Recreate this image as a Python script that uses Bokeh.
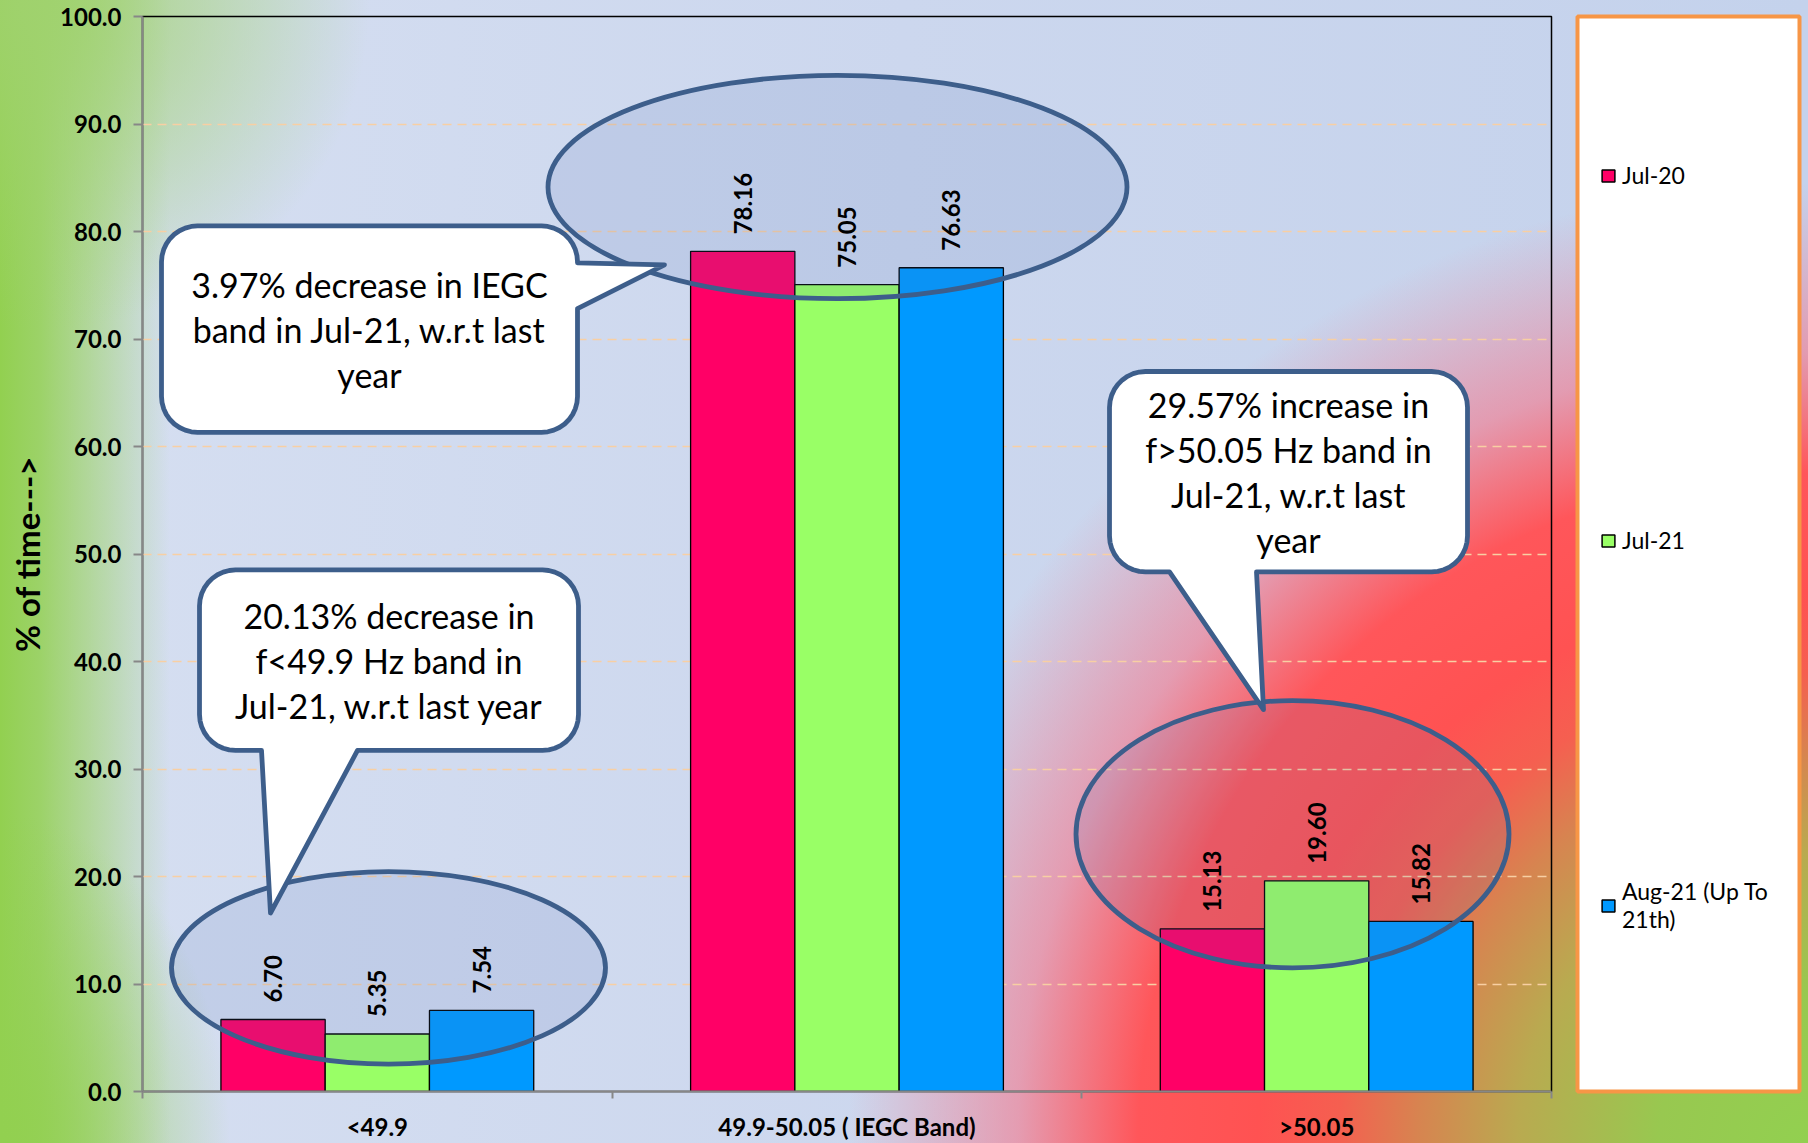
import numpy as np
from bokeh.plotting import figure
from bokeh.models import (ColumnDataSource, FixedTicker, NumeralTickFormatter, Range1d,
                          LabelSet, Legend, LegendItem)
from bokeh.layouts import row
from bokeh.embed import file_html
from bokeh.resources import INLINE
from bokeh.core.properties import value

# ---------------- data ----------------
categories = ["<49.9", "49.9-50.05 ( IEGC Band)", ">50.05"]
series_names = ["Jul-20", "Jul-21", "Aug-21 (Up To\n21th)"]
jul20 = [6.70, 78.16, 15.13]
jul21 = [5.35, 75.05, 19.60]
aug21 = [7.54, 76.63, 15.82]
y_ticks = [0, 10, 20, 30, 40, 50, 60, 70, 80, 90, 100]
callout_texts = [
    "3.97% decrease in IEGC\nband in Jul-21, w.r.t last\nyear",
    "20.13% decrease in\nf<49.9 Hz band in\nJul-21, w.r.t last year",
    "29.57% increase in\nf>50.05 Hz band in\nJul-21, w.r.t last\nyear",
]

# ---------------- layout (page pixels) ----------------
PAGE_W, PAGE_H = 1808, 1143
FL, FT, FR, FB = 142, 15, 1551, 1093
FW, FH = FR - FL, FB - FT
PXX = FW / 3.0
PXY = FH / 100.0
LEG_X = 1575
FONT = value("Lato")
colors = ["#ff0066", "#99ff66", "#0099ff"]
EDGE = "#3d5e8b"


def dx(X):
    return (X - FL) / PXX


def dy(Y):
    return (FB - Y) / PXY


p = figure(width=LEG_X, height=PAGE_H, x_range=Range1d(0, 3), y_range=Range1d(0, 100),
           output_backend="svg", toolbar_location=None, title=None,
           min_border_left=FL, min_border_top=FT,
           min_border_right=LEG_X - FL - FW,
           min_border_bottom=PAGE_H - FT - FH)
p.background_fill_color = None
p.border_fill_color = None
p.outline_line_color = "black"
p.outline_line_width = 1.5

# grid
p.xgrid.visible = False
p.ygrid.ticker = FixedTicker(ticks=y_ticks)
p.ygrid.grid_line_color = "#f8cfa3"
p.ygrid.grid_line_dash = "9 6"
p.ygrid.grid_line_width = 1.6

# y axis
p.yaxis.ticker = FixedTicker(ticks=y_ticks)
p.yaxis.formatter = NumeralTickFormatter(format="0.0")
p.yaxis.major_label_text_font = "Lato"
p.yaxis.major_label_text_font_style = "bold"
p.yaxis.major_label_text_font_size = "24px"
p.yaxis.major_label_text_color = "black"
p.yaxis.axis_line_color = "#878787"
p.yaxis.axis_line_width = 2
p.yaxis.major_tick_line_color = "#878787"
p.yaxis.major_tick_line_width = 2
p.yaxis.major_tick_out = 9
p.yaxis.major_tick_in = 0
p.yaxis.minor_tick_line_color = None
p.yaxis.major_label_standoff = 12
p.yaxis.axis_label = "% of time--->"
p.yaxis.axis_label_text_font = "Lato"
p.yaxis.axis_label_text_font_style = "bold"
p.yaxis.axis_label_text_font_size = "33px"
p.yaxis.axis_label_text_color = "black"
p.yaxis.axis_label_standoff = 10

# x axis
centers = [i + 0.5 for i in range(len(categories))]
p.xaxis.ticker = FixedTicker(ticks=centers, minor_ticks=list(range(len(categories) + 1)))
p.xaxis.major_label_overrides = {c: lab for c, lab in zip(centers, categories)}
p.xaxis.major_label_text_font = "Lato"
p.xaxis.major_label_text_font_style = "bold"
p.xaxis.major_label_text_font_size = "24px"
p.xaxis.major_label_text_color = "black"
p.xaxis.axis_line_color = "#878787"
p.xaxis.axis_line_width = 2
p.xaxis.major_tick_line_color = None
p.xaxis.major_tick_out = 0
p.xaxis.major_tick_in = 0
p.xaxis.minor_tick_line_color = "#878787"
p.xaxis.minor_tick_line_width = 2
p.xaxis.minor_tick_out = 7
p.xaxis.minor_tick_in = 0
p.xaxis.major_label_standoff = 13

# bars
BW = 0.222
series = [jul20, jul21, aug21]
lab_x, lab_y, lab_t = [], [], []
for si, vals in enumerate(series):
    xs = [c + (si - 1) * BW for c in centers]
    src = ColumnDataSource(dict(x=xs, top=vals))
    p.vbar(x="x", top="top", bottom=0, width=BW, source=src,
           fill_color=colors[si], line_color="black", line_width=1.3)
    lab_x += xs
    lab_y += vals
    lab_t += ["%.2f" % v for v in vals]

# highlight ellipses (page px: cx, cy, w, h)
ell_px = [(388, 969, 434, 193), (837, 186, 579, 224), (1292, 835, 433, 268)]
p.ellipse(x=[dx(e[0]) for e in ell_px], y=[dy(e[1]) for e in ell_px],
          width=[e[2] / PXX for e in ell_px], height=[e[3] / PXY for e in ell_px],
          fill_color="#4a6fae", fill_alpha=0.13, line_color=EDGE, line_width=4.8)

# value labels
lsrc = ColumnDataSource(dict(x=lab_x, y=lab_y, t=lab_t))
p.add_layout(LabelSet(x="x", y="y", text="t", source=lsrc, angle=np.pi / 2,
                      text_align="left", text_baseline="middle", y_offset=17,
                      text_font=FONT, text_font_style="bold", text_font_size="24px",
                      text_color="black"))


# callouts
def callout(l, t, r, b, rad, side, a1, tip, a2, n=10):
    pts = []

    def arc(cx, cy, t0, t1):
        for th in np.linspace(np.radians(t0), np.radians(t1), n):
            pts.append((cx + rad * np.cos(th), cy + rad * np.sin(th)))

    arc(r - rad, t + rad, -90, 0)
    if side == "right":
        pts += [(r, a1), tip, (r, a2)]
    arc(r - rad, b - rad, 0, 90)
    if side == "bottom":
        pts += [(a2, b), tip, (a1, b)]
    arc(l + rad, b - rad, 90, 180)
    arc(l + rad, t + rad, 180, 270)
    return [dx(q[0]) for q in pts], [dy(q[1]) for q in pts]


boxes = [
    (161, 225, 577, 432, 36, "right", 262, (664, 264), 308),
    (199, 570, 578, 751, 36, "bottom", 261, (270, 914), 357),
    (1109, 371, 1467, 572, 36, "bottom", 1169, (1263, 710), 1256),
]
cxs, cys = [], []
for bx in boxes:
    xs, ys = callout(*bx)
    cxs.append(xs)
    cys.append(ys)
p.patches(xs=cxs, ys=cys, fill_color="white", line_color=EDGE, line_width=4.8, line_join="round")
p.text(x=[dx((b[0] + b[2]) / 2) for b in boxes], y=[dy((b[1] + b[3]) / 2) for b in boxes],
       text=callout_texts, text_align="center", text_baseline="middle",
       text_font=FONT, text_font_size="34px", text_line_height=1.1, text_color="black")

# ---------------- legend panel ----------------
LW = PAGE_W - LEG_X
p2 = figure(width=LW, height=PAGE_H, x_range=Range1d(0, 1), y_range=Range1d(0, 1),
            output_backend="svg", toolbar_location=None, title=None,
            x_axis_type=None, y_axis_type=None,
            min_border_left=2, min_border_right=LW - 2 - 222,
            min_border_top=16, min_border_bottom=PAGE_H - 16 - 1083)
p2.grid.visible = False
p2.background_fill_color = "white"
p2.border_fill_color = None
p2.outline_line_color = "#f79646"
p2.outline_line_width = 4

items = []
for si, name in enumerate(series_names):
    rr = p2.rect(x=[-10], y=[-10], width=1, height=1, fill_color=colors[si], line_color="black",
                 line_width=1.5)
    items.append(LegendItem(label=name, renderers=[rr]))
leg = Legend(items=items, location="top_left", margin=23, padding=0, spacing=93,
             label_height=272, glyph_width=16, glyph_height=15, label_standoff=6,
             label_text_font="Lato", label_text_font_size="23px", label_text_color="black",
             background_fill_alpha=0, border_line_color=None)
p2.add_layout(leg)


def px(v):
    return f"{v}px"


bg = ", ".join([
    "radial-gradient(circle 960px at 1808px 1143px, "
    "rgba(146,208,80,1) 0px, rgba(152,200,80,1) 150px, rgba(185,170,80,1) 290px, "
    "rgba(215,132,80,1) 390px, rgba(245,95,80,1) 470px, rgba(255,82,82,1) 550px, "
    "rgba(255,86,90,1) 670px, rgba(242,125,145,0.65) 790px, rgba(225,165,195,0) 960px)",
    f"radial-gradient(ellipse 330px 330px at {px(40)} {px(0)}, rgba(160,210,110,0.95) 0%, rgba(160,210,110,0) 100%)",
    f"radial-gradient(ellipse 230px 330px at {px(0)} {px(1143)}, rgba(146,208,80,1) 0%, rgba(146,208,80,0) 100%)",
    f"linear-gradient(to right, rgba(146,208,80,1) {px(0)}, rgba(146,208,80,0.85) {px(40)}, rgba(146,208,80,0) {px(170)})",
    "linear-gradient(to right, #d6dff1 0%, #ccd7ee 50%, #c4d2ec 100%)",
])

layout = row(p, p2, styles={"background-image": bg})

open("out.html", "w").write(file_html(layout, INLINE))
